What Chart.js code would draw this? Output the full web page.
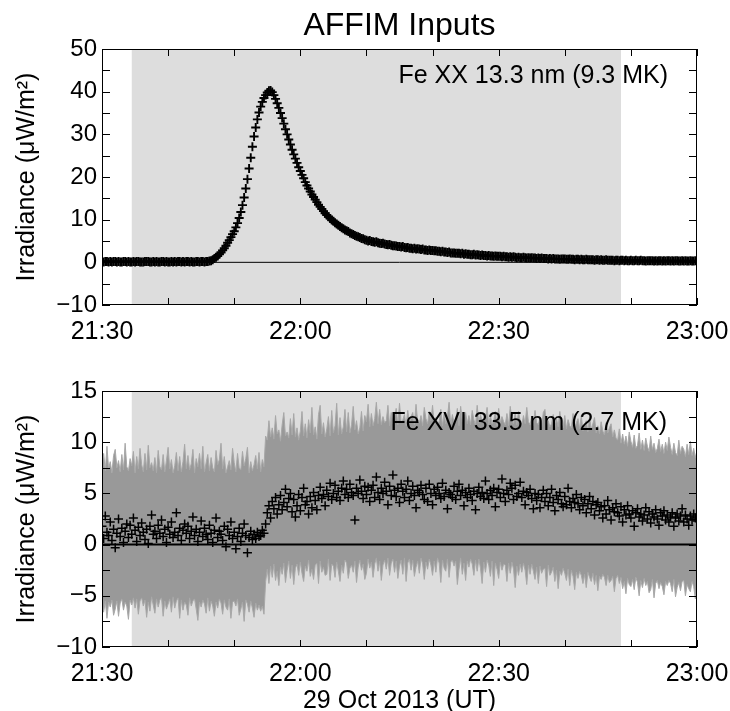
<!DOCTYPE html>
<html>
<head>
<meta charset="utf-8">
<title>AFFIM Inputs</title>
<script src="https://cdn.jsdelivr.net/npm/chart.js@4.4.1/dist/chart.umd.min.js"></script>
<style>
  body { margin: 0; background: #fff; }
  #wrap { position: relative; width: 730px; height: 711px; }
  #wrap canvas { position: absolute; left: 0; }
  #topChart { top: 0; }
  #botChart { top: 350px; }
</style>
</head>
<body>
<div id="wrap">
  <canvas id="topChart" width="730" height="350"></canvas>
  <canvas id="botChart" width="730" height="361"></canvas>
</div>
<script>
// Time axis: minutes after 21:30 UT, one sample every 15 s
const timeStart = 0;
const timeStep = 0.25;
const xTickLabels = ['21:30', '22:00', '22:30', '23:00'];
const shadeWindow = [4.5, 78.5];   // AFFIM fit window (minutes after 21:30)

// Fe XX 13.3 nm irradiance (uW/m^2), 4 samples per minute
const feXX = [
  0.2, 0.1, 0.2, 0.2,  0.1, 0.2, 0.1, 0.2,  0.2, 0.1, 0.2, 0.1,  0.1, 0.2, 0.2, 0.1,
  0.2, 0.1, 0.1, 0.2,  0.1, 0.2, 0.2, 0.1,  0.1, 0.1, 0.2, 0.2,  0.2, 0.1, 0.1, 0.2,
  0.1, 0.2, 0.1, 0.1,  0.2, 0.2, 0.1, 0.2,  0.1, 0.1, 0.2, 0.1,  0.2, 0.1, 0.2, 0.2,
  0.1, 0.2, 0.1, 0.2,  0.2, 0.1, 0.2, 0.1,  0.1, 0.2, 0.2, 0.1,  0.2, 0.2, 0.1, 0.2,
  0.2, 0.3, 0.4, 0.6,  0.9, 1.2, 1.5, 1.9,  2.3, 2.8, 3.3, 3.9,  4.6, 5.2, 5.9, 6.6,
  7.3, 8.2, 9.2, 10.4,  11.8, 13.4, 15.2, 17.3,  19.5, 22.0, 24.5, 27.1,  29.5, 31.6, 33.5, 35.1,
  36.5, 37.6, 38.5, 39.2,  39.8, 40.2, 40.3, 39.9,  39.2, 38.3, 37.3, 36.2,  35.0, 33.8, 32.5, 31.2,
  30.0, 28.8, 27.6, 26.4,  25.3, 24.3, 23.3, 22.3,  21.4, 20.5, 19.7, 18.8,  18.0, 17.3, 16.6, 15.9,
  15.3, 14.7, 14.1, 13.5,  13.0, 12.5, 12.0, 11.5,  11.1, 10.7, 10.3, 9.9,  9.6, 9.3, 9.0, 8.7,
  8.4, 8.1, 7.9, 7.6,  7.4, 7.2, 6.9, 6.7,  6.5, 6.3, 6.1, 6.0,  5.8, 5.6, 5.5, 5.3,
  5.2, 5.0, 5.1, 4.9,  4.8, 4.7, 4.8, 4.6,  4.5, 4.4, 4.5, 4.3,  4.2, 4.1, 4.2, 4.0,
  3.9, 3.9, 3.8, 3.7,  3.7, 3.6, 3.7, 3.5,  3.4, 3.5, 3.3, 3.3,  3.2, 3.3, 3.1, 3.2,
  3.1, 3.0, 3.1, 2.9,  2.9, 2.8, 2.9, 2.8,  2.8, 2.7, 2.7, 2.6,  2.6, 2.5, 2.6, 2.4,
  2.4, 2.3, 2.4, 2.2,  2.2, 2.2, 2.1, 2.1,  2.1, 2.0, 2.1, 1.9,  2.0, 1.9, 1.9, 1.8,
  1.8, 1.9, 1.7, 1.8,  1.7, 1.6, 1.7, 1.6,  1.6, 1.5, 1.6, 1.5,  1.5, 1.4, 1.5, 1.4,
  1.4, 1.4, 1.3, 1.4,  1.3, 1.3, 1.2, 1.3,  1.2, 1.3, 1.2, 1.1,  1.2, 1.1, 1.1, 1.2,
  1.1, 1.0, 1.1, 1.0,  1.1, 1.0, 1.0, 0.9,  1.0, 0.9, 1.0, 0.9,  0.9, 0.9, 0.8, 0.9,
  0.8, 0.9, 0.8, 0.8,  0.8, 0.7, 0.8, 0.8,  0.8, 0.7, 0.7, 0.8,  0.7, 0.7, 0.6, 0.7,
  0.7, 0.6, 0.7, 0.6,  0.6, 0.7, 0.6, 0.6,  0.6, 0.6, 0.5, 0.6,  0.6, 0.5, 0.6, 0.5,
  0.5, 0.6, 0.5, 0.5,  0.5, 0.5, 0.4, 0.5,  0.5, 0.4, 0.5, 0.5,  0.4, 0.5, 0.4, 0.4,
  0.5, 0.4, 0.4, 0.5,  0.4, 0.4, 0.5, 0.4,  0.4, 0.3, 0.4, 0.4,  0.4, 0.4, 0.3, 0.4,
  0.3, 0.4, 0.4, 0.3,  0.4, 0.3, 0.4, 0.4,  0.3, 0.4, 0.3, 0.4,  0.4, 0.3, 0.3, 0.4,
  0.3, 0.4, 0.3, 0.3,  0.4, 0.3, 0.3, 0.4,
  0.3
];

// Fe XVI 33.5 nm irradiance (uW/m^2), same cadence
const feXVI = [
  1.8, 0.6, 2.8, 1.2,  0.9, 2.2, 0.4, 1.5,  -0.3, 1.1, 2.5, 0.8,  1.6, 0.2, 1.3, 2.0,
  0.7, 1.9, 1.0, 2.6,  1.4, 0.3, 1.7, 0.9,  2.1, 1.2, 0.5, 1.5,  0.1, 1.8, 2.9, 1.0,
  1.3, 0.6, 1.9, 1.1,  2.4, 0.8, 1.5, 0.2,  1.7, 1.0, 2.2, 0.7,  1.2, 3.1, 0.9, 1.6,
  0.4, 1.4, 2.0, 1.1,  1.8, 0.6, 1.3, 2.7,  0.9, 1.5, 0.3, 1.2,  2.3, 0.8, 1.6, 1.0,
  0.5, 1.9, 1.1, 0.2,  1.4, 2.6, 0.7, 1.3,  1.0, 0.4, 1.8, -0.2,  1.5, 0.9, 2.2, 0.6,
  1.2, -0.4, 0.8, 1.6,  0.3, 1.1, 2.0, 0.9,  -0.8, 0.7, 1.3, 0.5,  1.0, 0.6, 1.2, 0.8,
  0.9, 1.4, 1.1, 2.0,  3.1, 3.8, 2.6, 4.2,  3.5, 4.6, 3.0, 3.9,  4.8, 3.4, 4.1, 5.4,
  3.7, 4.5, 5.0, 3.2,  4.4, 2.7, 3.8, 4.9,  3.3, 4.6, 5.5, 3.9,  4.2, 3.0, 4.7, 3.6,
  5.1, 4.3, 3.4, 4.8,  5.6, 4.5, 4.9, 3.8,  5.3, 4.7, 6.0, 4.4,  5.0, 5.8, 4.6, 5.2,
  4.3, 5.5, 6.2, 4.9,  5.4, 4.6, 5.9, 5.1,  4.8, 2.4, 5.5, 5.0,  6.3, 5.2, 4.5, 5.7,
  4.9, 5.6, 4.2, 5.3,  5.8, 4.6, 6.6, 5.1,  4.4, 5.5, 5.0, 6.1,  5.2, 3.9, 5.7, 4.8,
  6.8, 5.3, 4.7, 5.5,  4.1, 5.9, 5.2, 4.6,  5.4, 6.2, 4.3, 5.0,  5.7, 4.8, 3.6, 5.3,
  5.1, 5.8, 4.9, 4.4,  5.5, 4.2, 5.9, 5.0,  3.9, 5.4, 4.8, 5.6,  5.0, 4.5, 6.0, 4.7,
  5.3, 3.5, 5.1, 4.9,  4.6, 5.7, 4.4, 5.2,  5.9, 4.8, 5.3, 3.8,  5.1, 4.6, 5.5, 4.9,
  4.3, 5.2, 3.4, 5.0,  5.6, 4.7, 5.1, 4.5,  6.2, 5.0, 4.4, 5.3,  4.8, 5.5, 3.7, 5.1,
  5.4, 4.6, 6.4, 5.0,  4.2, 5.3, 4.9, 6.0,  5.5, 4.4, 5.8, 4.7,  5.0, 6.1, 4.6, 5.2,
  3.9, 5.1, 4.8, 5.4,  4.5, 3.5, 5.0, 4.3,  4.9, 3.6, 4.6, 5.3,  4.2, 5.0, 3.8, 4.6,
  5.4, 4.1, 3.3, 4.8,  4.4, 5.1, 4.0, 3.7,  4.7, 3.9, 5.5, 4.2,  3.6, 4.5, 4.1, 4.9,
  4.0, 3.4, 4.6, 3.8,  4.4, 3.1, 4.0, 4.7,  3.5, 4.2, 2.9, 3.9,  4.1, 3.3, 3.7, 2.6,
  3.8, 3.0, 4.3, 3.4,  2.4, 3.6, 3.2, 4.0,  3.1, 2.8, 3.7, 2.2,  3.4, 2.9, 3.8, 3.0,
  2.6, 3.3, 1.8, 3.1,  3.5, 2.7, 3.0, 2.3,  2.9, 3.6, 2.5, 3.2,  2.1, 3.0, 2.7, 3.4,
  2.5, 1.9, 3.1, 2.8,  3.3, 2.4, 2.9, 2.2,  2.7, 3.1, 1.8, 2.6,  3.0, 2.3, 2.8, 3.5,
  2.2, 2.9, 2.5, 1.9,  2.8, 2.4, 3.0, 2.6,
  2.3
];

// Fe XVI uncertainty envelope, upper and lower edge (uW/m^2)
const feXVIUpper = [
  7.6, 8.9, 7.2, 9.6,  7.4, 8.1, 7.0, 8.7,  9.3, 7.5, 8.2, 7.1,  8.8, 7.3, 9.9, 7.6,
  7.2, 8.4, 7.7, 9.1,  7.0, 8.6, 7.4, 9.4,  7.8, 7.1, 8.9, 7.3,  9.7, 7.5, 8.0, 7.2,
  8.5, 7.0, 9.2, 7.6,  7.3, 8.8, 7.1, 8.2,  9.5, 7.4, 8.3, 7.0,  7.7, 9.0, 7.2, 8.6,
  7.1, 8.1, 9.8, 7.4,  8.7, 7.3, 7.9, 9.3,  7.0, 8.4, 7.6, 8.9,  7.4, 9.6, 7.1, 8.0,
  8.8, 7.2, 8.5, 7.5,  7.1, 9.2, 7.8, 8.3,  9.9, 7.4, 8.6, 7.0,  7.6, 8.2, 7.3, 9.4,
  8.0, 7.1, 8.9, 7.5,  7.3, 9.1, 7.7, 8.4,  9.5, 7.0, 8.1, 7.2,  7.8, 8.7, 7.4, 9.0,
  7.1, 8.3, 7.6, 10.6,  10.2, 12.1, 10.5, 11.4,  10.3, 12.6, 10.8, 11.2,  10.1, 11.7, 12.9, 10.6,
  11.0, 10.4, 12.3, 10.7,  12.8, 10.5, 11.4, 10.2,  11.1, 13.0, 10.6, 11.8,  10.4, 12.2, 10.9, 13.4,
  10.7, 11.5, 10.3, 12.7,  13.6, 10.8, 11.9, 10.5,  11.3, 12.5, 10.6, 13.1,  10.9, 11.6, 13.8, 10.7,
  12.4, 10.8, 11.5, 13.2,  11.0, 12.9, 10.9, 11.7,  13.5, 11.2, 12.1, 10.8,  11.4, 13.0, 11.1, 12.6,
  12.0, 13.7, 11.5, 12.8,  11.6, 12.3, 13.9, 11.8,  13.2, 11.7, 12.5, 11.9,  12.1, 13.6, 11.6, 12.9,
  11.8, 12.4, 13.3, 11.7,  13.8, 11.9, 12.2, 12.7,  11.6, 13.1, 11.8, 12.5,  12.9, 11.7, 13.7, 12.0,
  11.9, 12.6, 11.6, 13.4,  12.3, 11.8, 13.0, 12.1,  13.6, 11.7, 12.4, 11.9,  12.0, 13.2, 11.6, 12.8,
  11.8, 12.5, 13.9, 11.7,  12.7, 11.9, 12.2, 13.3,  11.6, 13.5, 12.0, 12.4,  12.9, 11.8, 12.6, 11.7,
  13.1, 12.2, 11.6, 13.6,  11.9, 12.7, 12.1, 11.8,  12.4, 13.4, 11.7, 12.6,  11.8, 12.1, 13.0, 11.6,
  13.3, 11.9, 12.5, 12.0,  11.7, 12.8, 11.6, 13.5,  12.2, 11.8, 12.9, 11.7,  13.0, 12.1, 11.6, 12.6,
  11.8, 13.4, 12.0, 11.7,  12.5, 11.6, 13.1, 11.9,  11.7, 12.4, 11.5, 12.9,  13.2, 11.6, 12.1, 11.5,
  11.8, 12.7, 11.4, 12.3,  11.5, 13.0, 11.7, 11.4,  12.6, 11.3, 12.2, 11.6,  11.4, 12.8, 11.2, 11.9,
  12.3, 11.3, 12.6, 11.1,  11.7, 12.1, 11.0, 12.5,  11.2, 11.8, 12.4, 10.9,  11.6, 10.8, 12.0, 11.1,
  10.7, 11.9, 10.9, 11.4,  11.8, 10.5, 11.2, 10.4,  10.2, 11.3, 9.9, 10.8,  9.8, 10.6, 9.6, 11.0,
  10.1, 9.5, 10.7, 9.4,  9.7, 10.9, 9.3, 10.2,  9.2, 10.4, 9.6, 9.1,  10.6, 9.3, 9.9, 9.0,
  9.4, 10.3, 9.1, 9.8,  8.9, 10.0, 9.2, 10.5,  9.5, 8.8, 9.9, 9.0,  8.7, 10.2, 8.9, 9.6,
  9.3, 8.6, 9.8, 8.8,  10.1, 8.7, 9.4, 8.5,
  9.2
];
const feXVILower = [
  -5.8, -6.6, -5.5, -7.2,  -5.6, -6.1, -5.4, -6.9,  -6.3, -5.5, -7.0, -5.7,  -5.3, -6.4, -5.6, -6.0,
  -7.3, -5.4, -5.9, -5.2,  -6.2, -5.3, -6.8, -5.5,  -5.2, -6.0, -5.4, -7.1,  -5.6, -6.5, -5.1, -5.9,
  -6.7, -5.3, -6.1, -5.4,  -5.2, -7.0, -5.5, -6.3,  -5.8, -5.3, -6.6, -5.1,  -6.2, -5.5, -5.2, -7.2,
  -5.4, -6.4, -5.6, -5.9,  -6.9, -5.2, -6.0, -5.5,  -5.3, -6.3, -7.4, -5.6,  -6.1, -5.4, -5.8, -6.7,
  -5.2, -6.5, -5.5, -6.0,  -7.0, -5.6, -6.2, -5.3,  -5.7, -6.8, -5.4, -6.1,  -6.4, -5.3, -7.2, -5.6,
  -5.5, -6.0, -5.3, -6.9,  -6.3, -5.6, -7.5, -5.4,  -5.8, -6.6, -5.5, -6.2,  -7.1, -5.7, -6.4, -5.9,
  -6.5, -6.0, -6.8, -3.6,  -2.4, -3.8, -2.1, -3.2,  -1.9, -3.5, -2.6, -4.0,  -2.2, -2.9, -1.8, -3.7,
  -2.5, -1.6, -3.3, -2.0,  -3.9, -2.3, -1.9, -3.0,  -1.7, -2.8, -3.6, -2.1,  -2.6, -1.5, -3.1, -2.4,
  -3.4, -2.0, -1.8, -3.8,  -1.6, -2.7, -2.2, -3.0,  -2.9, -1.4, -3.5, -1.9,  -2.1, -3.2, -1.7, -2.6,
  -3.6, -2.0, -2.8, -1.5,  -1.8, -3.3, -2.3, -2.0,  -2.7, -1.6, -3.7, -2.2,  -1.5, -2.5, -1.9, -3.4,
  -2.8, -1.4, -2.3, -1.7,  -3.2, -1.9, -1.3, -2.6,  -1.6, -3.5, -2.0, -1.5,  -2.4, -1.3, -3.0, -1.8,
  -1.4, -2.7, -1.6, -3.3,  -2.1, -1.5, -2.9, -1.3,  -3.6, -1.8, -1.4, -2.5,  -1.5, -3.1, -2.2, -1.6,
  -2.8, -1.3, -1.9, -3.4,  -1.7, -2.4, -1.4, -2.0,  -3.0, -1.6, -2.7, -1.3,  -1.8, -3.7, -1.5, -2.3,
  -2.6, -1.4, -3.2, -1.7,  -1.5, -2.1, -1.6, -3.9,  -2.4, -1.3, -2.9, -1.8,  -3.5, -1.6, -2.2, -1.4,
  -1.9, -3.0, -1.5, -2.6,  -1.4, -2.3, -3.8, -1.7,  -2.7, -1.5, -2.0, -3.1,  -1.6, -4.0, -1.8, -2.4,
  -3.3, -1.7, -2.5, -1.9,  -2.0, -3.6, -1.8, -2.8,  -1.7, -2.4, -4.2, -2.1,  -3.0, -1.9, -2.7, -1.8,
  -2.5, -3.9, -2.0, -2.9,  -1.9, -2.6, -3.4, -2.2,  -3.8, -2.1, -2.8, -2.4,  -2.3, -4.1, -2.0, -3.0,
  -2.7, -2.2, -3.6, -2.5,  -4.3, -2.6, -3.0, -2.3,  -2.8, -3.5, -2.4, -4.0,  -2.5, -3.1, -4.4, -2.7,
  -3.3, -2.6, -3.0, -3.8,  -2.9, -4.2, -2.7, -3.2,  -3.6, -2.8, -3.9, -3.0,  -4.5, -3.1, -3.4, -2.9,
  -3.2, -4.0, -3.0, -3.7,  -3.5, -3.1, -4.6, -3.3,  -3.0, -3.8, -3.2, -4.3,  -3.6, -4.8, -3.3, -3.9,
  -4.1, -3.4, -4.4, -3.2,  -3.7, -5.0, -3.5, -4.2,  -3.3, -4.0, -3.6, -4.7,  -4.4, -3.4, -5.2, -3.8,
  -3.5, -4.3, -3.7, -4.1,  -4.9, -3.6, -4.0, -3.5,  -3.8, -4.6, -3.4, -5.1,  -4.2, -3.7, -4.5, -3.6,
  -3.5, -5.0, -3.9, -4.3,  -4.6, -3.6, -4.1, -5.3,
  -4.0
];

const toPoints = arr => arr.map((v, i) => ({ x: timeStart + i * timeStep, y: v }));
const minus = v => (v < 0 ? '\u2212' + Math.abs(v) : String(v));
const FONT = "'Liberation Sans', Arial, sans-serif";

// Shaded fit window behind the data
const shadePlugin = {
  id: 'shade',
  beforeDatasetsDraw(chart) {
    const { ctx, chartArea: a, scales: { x } } = chart;
    const x0 = x.getPixelForValue(shadeWindow[0]);
    const x1 = x.getPixelForValue(shadeWindow[1]);
    ctx.save();
    ctx.fillStyle = '#dddddd';
    ctx.fillRect(x0, a.top, x1 - x0, a.bottom - a.top);
    ctx.restore();
  }
};

// IDL style box: frame plus inward ticks on all four sides
const framePlugin = {
  id: 'frame',
  afterDatasetsDraw(chart, args, opts) {
    const { ctx, chartArea: a, scales: { x, y } } = chart;
    ctx.save();
    ctx.strokeStyle = '#000';
    ctx.lineWidth = 1;
    ctx.strokeRect(a.left + 0.5, a.top + 0.5, a.right - a.left - 1, a.bottom - a.top - 1);
    ctx.beginPath();
    for (let v = x.min; v <= x.max + 1e-6; v += opts.xMinor) {
      const px = Math.round(x.getPixelForValue(v)) + 0.5;
      ctx.moveTo(px, a.bottom); ctx.lineTo(px, a.bottom - 7);
      ctx.moveTo(px, a.top); ctx.lineTo(px, a.top + 7);
    }
    for (let v = y.min; v <= y.max + 1e-6; v += opts.yMinor) {
      const py = Math.round(y.getPixelForValue(v)) + 0.5;
      ctx.moveTo(a.left, py); ctx.lineTo(a.left + 8, py);
      ctx.moveTo(a.right, py); ctx.lineTo(a.right - 8, py);
    }
    ctx.stroke();
    ctx.restore();
  }
};

// Titles and in-panel labels
const textPlugin = {
  id: 'texts',
  afterDraw(chart, args, opts) {
    const { ctx, chartArea: a } = chart;
    const cx = (a.left + a.right) / 2;
    ctx.save();
    ctx.fillStyle = '#000';
    if (opts.title) {
      ctx.font = '32px ' + FONT;
      ctx.textAlign = 'center';
      ctx.textBaseline = 'alphabetic';
      ctx.fillText(opts.title, cx, opts.titleY);
    }
    if (opts.note) {
      ctx.font = '25px ' + FONT;
      ctx.textAlign = 'right';
      ctx.textBaseline = 'alphabetic';
      ctx.fillText(opts.note, opts.noteX, a.top + opts.noteDy);
    }
    if (opts.xTitle) {
      ctx.font = '25px ' + FONT;
      ctx.textAlign = 'center';
      ctx.textBaseline = 'alphabetic';
      ctx.fillText(opts.xTitle, cx, opts.xTitleY);
    }
    ctx.translate(27, (a.top + a.bottom) / 2);
    ctx.rotate(-Math.PI / 2);
    ctx.font = '25px ' + FONT;
    ctx.textAlign = 'center';
    ctx.textBaseline = 'middle';
    ctx.fillText('Irradiance (\u03BCW/m\u00B2)', 0, 0);
    ctx.restore();
  }
};

function makeScales(yMin, yMax, yStep, xHeight) {
  return {
    x: {
      type: 'linear', min: 0, max: 90,
      grid: { display: false, drawTicks: false },
      border: { display: false },
      afterFit: s => { s.height = xHeight; s.paddingLeft = 0; s.paddingRight = 0; },
      ticks: {
        stepSize: 30, padding: 12, color: '#000', maxRotation: 0,
        font: { family: FONT, size: 25 },
        callback: v => xTickLabels[v / 30]
      }
    },
    y: {
      min: yMin, max: yMax,
      grid: { display: false, drawTicks: false },
      border: { display: false },
      afterFit: s => { s.width = 102; s.paddingTop = 0; s.paddingBottom = 0; },
      ticks: {
        stepSize: yStep, padding: 5, color: '#000',
        font: { family: FONT, size: 24 },
        callback: v => minus(v)
      }
    }
  };
}

const crossStyle = {
  showLine: false,
  pointStyle: 'cross',
  pointRadius: 4.5,
  pointBorderWidth: 1.9,
  pointBorderColor: '#000',
  borderColor: '#000'
};

new Chart(document.getElementById('topChart'), {
  type: 'line',
  data: {
    datasets: [
      Object.assign({ label: 'Fe XX', data: toPoints(feXX), order: 0 }, crossStyle),
      { label: 'zero', data: [{ x: 0, y: 0 }, { x: 90, y: 0 }], borderColor: '#000',
        borderWidth: 1, pointRadius: 0, order: 1 }
    ]
  },
  options: {
    responsive: false,
    animation: false,
    layout: { padding: { top: 49, right: 33, left: 0, bottom: 0 } },
    scales: makeScales(-10, 50, 10, 45),
    plugins: {
      legend: { display: false },
      tooltip: { enabled: false },
      frame: { xMinor: 10, yMinor: 5 },
      texts: { title: 'AFFIM Inputs', titleY: 35, note: 'Fe XX 13.3 nm (9.3 MK)', noteX: 668, noteDy: 34 }
    }
  },
  plugins: [shadePlugin, framePlugin, textPlugin]
});

new Chart(document.getElementById('botChart'), {
  type: 'line',
  data: {
    datasets: [
      { label: 'upper', data: toPoints(feXVIUpper), fill: '+1', backgroundColor: '#999999',
        borderColor: '#a8a8a8', borderWidth: 1, pointRadius: 0, order: 3 },
      { label: 'lower', data: toPoints(feXVILower), fill: false,
        borderColor: '#a8a8a8', borderWidth: 1, pointRadius: 0, order: 2 },
      Object.assign({ label: 'Fe XVI', data: toPoints(feXVI), order: 0 }, crossStyle, { pointBorderWidth: 1.5 }),
      { label: 'zero', data: [{ x: 0, y: 0 }, { x: 90, y: 0 }], borderColor: '#000',
        borderWidth: 2, pointRadius: 0, order: 1 }
    ]
  },
  options: {
    responsive: false,
    animation: false,
    layout: { padding: { top: 41, right: 33, left: 0, bottom: 0 } },
    scales: makeScales(-10, 15, 5, 64),
    plugins: {
      legend: { display: false },
      tooltip: { enabled: false },
      frame: { xMinor: 10, yMinor: 2.5 },
      texts: { note: 'Fe XVI 33.5 nm (2.7 MK)', noteX: 667, noteDy: 39, xTitle: '29 Oct 2013 (UT)', xTitleY: 358 }
    }
  },
  plugins: [shadePlugin, framePlugin, textPlugin]
});
</script>
</body>
</html>
